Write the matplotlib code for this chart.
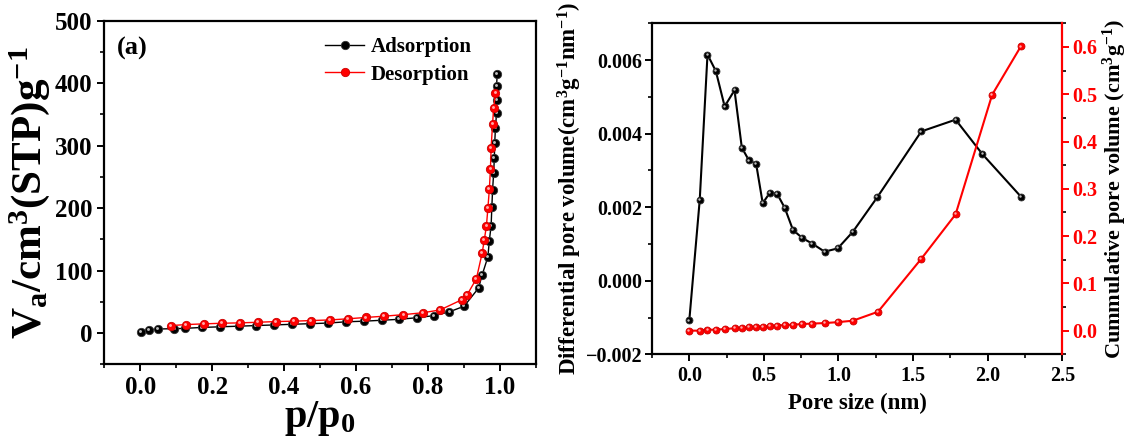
import matplotlib
matplotlib.use("Agg")
import matplotlib.pyplot as plt
from matplotlib.ticker import MultipleLocator, FuncFormatter
from matplotlib.transforms import offset_copy

plt.rcParams['font.family'] = ['Liberation Serif', 'DejaVu Serif']
plt.rcParams['font.weight'] = 'bold'
plt.rcParams['mathtext.fontset'] = 'custom'
plt.rcParams['mathtext.rm'] = 'Liberation Serif:bold'
plt.rcParams['mathtext.it'] = 'Liberation Serif:bold'
plt.rcParams['mathtext.bf'] = 'Liberation Serif:bold'
plt.rcParams['mathtext.default'] = 'bf'

# ---- Panel (a): N2 isotherm ----
ads_p = [0.002, 0.023, 0.050, 0.095, 0.124, 0.172, 0.222, 0.274, 0.323, 0.372,
         0.421, 0.472, 0.523, 0.572, 0.623, 0.672, 0.720, 0.769, 0.818, 0.860,
         0.901, 0.941, 0.951, 0.967, 0.971, 0.976, 0.978, 0.980, 0.983, 0.985,
         0.986, 0.988, 0.991, 0.991, 0.991, 0.993]
ads_v = [2, 5, 6.5, 7, 7.5, 9, 10, 11, 12, 13,
         14, 15, 16, 18, 19, 20.5, 22, 24.5, 28, 34,
         43, 72, 93, 122, 148, 172, 202, 229, 256, 281,
         305, 328, 352, 373, 395, 415]
des_p = [0.988, 0.983, 0.980, 0.976, 0.974, 0.971, 0.967, 0.963, 0.957, 0.951,
         0.935, 0.909, 0.895, 0.834, 0.786, 0.732, 0.679, 0.628, 0.577, 0.527,
         0.476, 0.427, 0.377, 0.328, 0.277, 0.227, 0.177, 0.128, 0.086]
des_v = [385, 360, 335, 297, 262, 230, 200, 172, 149, 128,
         87, 61, 53.5, 37, 32.5, 29.5, 27, 25, 22.8, 21,
         20, 19, 18.4, 17.3, 16.3, 15.7, 14.7, 13.6, 12]

# ---- Panel (b): pore size distribution ----
diff_x = [0.0, 0.070, 0.122, 0.178, 0.237, 0.303, 0.352, 0.400, 0.448, 0.492,
          0.540, 0.588, 0.640, 0.695, 0.758, 0.824, 0.907, 0.995, 1.096, 1.260,
          1.555, 1.785, 1.965, 2.222]
diff_y = [-0.00108, 0.00220, 0.00615, 0.00570, 0.00474, 0.00518, 0.00362, 0.00327,
          0.00318, 0.00211, 0.00239, 0.00237, 0.00198, 0.00138, 0.00116, 0.00101,
          0.00079, 0.00088, 0.00133, 0.00227, 0.00406, 0.00438, 0.00344, 0.00229]
cum_x = [0.0, 0.070, 0.122, 0.178, 0.237, 0.303, 0.352, 0.400, 0.448, 0.492,
         0.540, 0.588, 0.640, 0.695, 0.758, 0.824, 0.907, 0.995, 1.096, 1.265,
         1.555, 1.785, 2.030, 2.222]
cum_y = [0.0, 0.0, 0.002, 0.002, 0.0035, 0.005, 0.0056, 0.007, 0.0078, 0.0085,
         0.009, 0.0106, 0.012, 0.0127, 0.014, 0.015, 0.016, 0.018, 0.021, 0.040,
         0.152, 0.246, 0.499, 0.601]

fig = plt.figure(figsize=(11.29, 4.38), dpi=100)
ax1 = fig.add_axes([0.0924, 0.1683, 0.3821, 0.7844])
ax2 = fig.add_axes([0.5775, 0.1911, 0.3634, 0.7557])


def balls(ax, x, y, color, edge, hl, ms, lw, label=None, z=3):
    line, = ax.plot(x, y, '-', color=color, lw=lw, marker='o', ms=ms,
                    mfc=color, mec=edge, mew=0.6, label=label, zorder=z)
    tr = offset_copy(ax.transData, fig=fig, x=-0.9, y=0.9, units='dots')
    ax.plot(x, y, 'o', ms=ms * 0.35, mfc=hl, mec='none', transform=tr,
            zorder=z + 0.1)
    return line


def style(ax):
    for s in ax.spines.values():
        s.set_linewidth(1.6)
    ax.tick_params(which='major', direction='out', length=5, width=1.4)
    ax.tick_params(which='minor', direction='out', length=3, width=1.2)


# Panel (a)
balls(ax1, ads_p, ads_v, 'black', '#333333', '#bbbbbb', 6.0, 1.0, 'Adsorption', 3)
balls(ax1, des_p, des_v, 'red', '#cc0000', '#ffaaaa', 6.0, 1.0, 'Desorption', 4)
ax1.set_xlim(-0.1, 1.1)
ax1.set_ylim(-50, 500)
ax1.xaxis.set_major_locator(MultipleLocator(0.2))
ax1.xaxis.set_minor_locator(MultipleLocator(0.1))
ax1.yaxis.set_major_locator(MultipleLocator(100))
ax1.yaxis.set_minor_locator(MultipleLocator(50))
ax1.xaxis.set_major_formatter(FuncFormatter(lambda v, p: f"{v:.1f}"))
style(ax1)
ax1.tick_params(labelsize=18)
for t in ax1.get_xticklabels() + ax1.get_yticklabels():
    t.set_fontweight('bold')
ax1.set_xlabel(r'p/p$_\mathbf{0}$', fontsize=29, fontweight='bold', labelpad=0)
ax1.set_ylabel(r'V$_\mathbf{a}$/cm$^\mathbf{3}$(STP)g$^\mathbf{-1}$', fontsize=31,
               fontweight='bold', labelpad=2)
ax1.text(0.03, 0.92, '(a)', transform=ax1.transAxes, fontsize=19,
         fontweight='bold', va='center')
leg = ax1.legend(loc='upper right', frameon=False, fontsize=15,
                 handlelength=1.9, handletextpad=0.3, borderaxespad=0.4,
                 labelspacing=0.35, bbox_to_anchor=(0.89, 1.0))
for t in leg.get_texts():
    t.set_fontweight('bold')

# Panel (b)
balls(ax2, diff_x, diff_y, 'black', '#333333', '#bbbbbb', 5.0, 1.5, None, 3)
ax2.set_xlim(-0.25, 2.5)
ax2.set_ylim(-0.002, 0.007)
ax2.xaxis.set_major_locator(MultipleLocator(0.5))
ax2.xaxis.set_minor_locator(MultipleLocator(0.25))
ax2.yaxis.set_major_locator(MultipleLocator(0.002))
ax2.yaxis.set_minor_locator(MultipleLocator(0.001))
ax2.xaxis.set_major_formatter(FuncFormatter(lambda v, p: f"{v:.1f}"))
ax2.yaxis.set_major_formatter(FuncFormatter(
    lambda v, p: (f"{v:.3f}" if v >= -1e-9 else "\u2212" + f"{-v:.3f}")))
style(ax2)
ax2.tick_params(labelsize=14.5)
ax2.tick_params(axis='y', pad=2)
for t in ax2.get_xticklabels() + ax2.get_yticklabels():
    t.set_fontweight('bold')
ax2.set_xlabel('Pore size (nm)', fontsize=16.5, fontweight='bold', labelpad=5)
ax2.set_ylabel(r'Differential pore volume(cm$^\mathbf{3}$g$^\mathbf{-1}$nm$^\mathbf{-1}$)',
               fontsize=16.5, fontweight='bold', labelpad=1)
ax2.spines['right'].set_visible(False)

ax3 = ax2.twinx()
balls(ax3, cum_x, cum_y, 'red', '#cc0000', '#ffaaaa', 5.0, 1.5, None, 3)
ax3.set_ylim(-0.05, 0.65)
ax3.yaxis.set_major_locator(MultipleLocator(0.1))
ax3.yaxis.set_minor_locator(MultipleLocator(0.05))
ax3.yaxis.set_major_formatter(FuncFormatter(lambda v, p: f"{v:.1f}"))
style(ax3)
for k in ['left', 'top', 'bottom']:
    ax3.spines[k].set_visible(False)
ax3.spines['right'].set_color('red')
ax3.tick_params(axis='y', colors='red', labelsize=14.5, pad=2)
for t in ax3.get_yticklabels():
    t.set_fontweight('bold')
    t.set_color('red')
ax3.set_ylabel(r'Cummulative pore volume (cm$^\mathbf{3}$g$^\mathbf{-1}$)',
               fontsize=16, fontweight='bold', color='black', labelpad=3)

fig.savefig('out.png', dpi=100)
